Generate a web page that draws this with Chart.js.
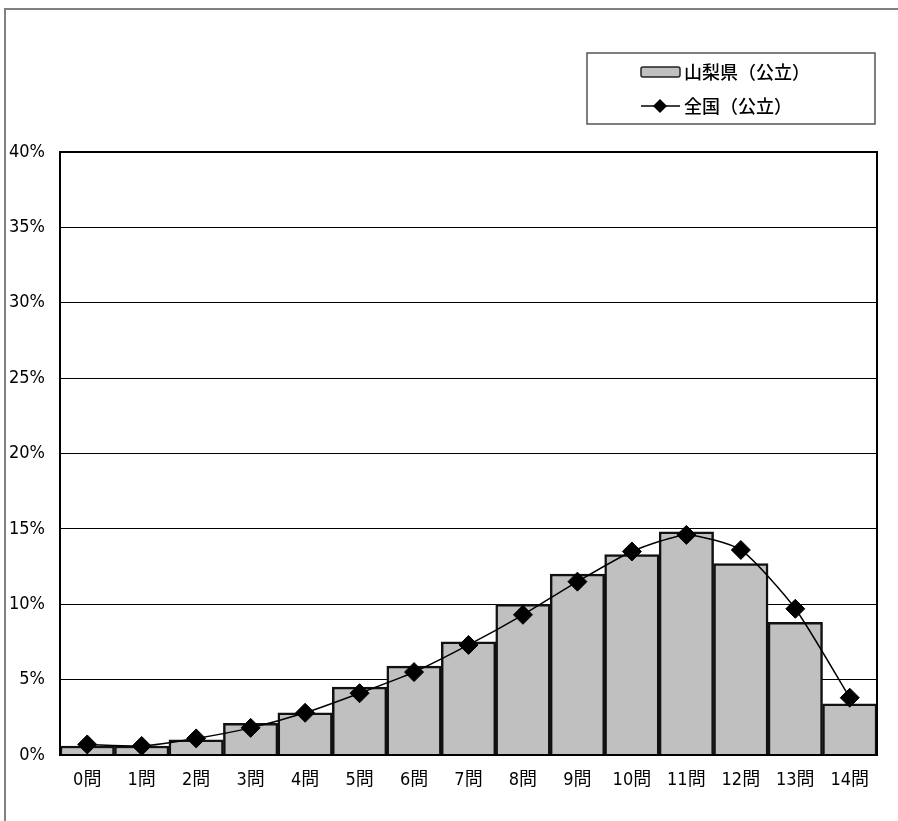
<!DOCTYPE html>
<html>
<head>
<meta charset="utf-8">
<script src="https://cdn.jsdelivr.net/npm/chart.js@4/dist/chart.umd.min.js"></script>
<style>
  html, body { margin: 0; padding: 0; background: #fff; }
  #wrap { width: 898px; height: 821px; position: relative; }
</style>
</head>
<body>
<div id="wrap"><canvas id="c"></canvas></div>
<script>
const categories = ['0問','1問','2問','3問','4問','5問','6問','7問','8問','9問','10問','11問','12問','13問','14問'];
const yamanashi = [0.6, 0.6, 1.0, 2.1, 2.8, 4.5, 5.9, 7.5, 10.0, 12.0, 13.3, 14.8, 12.7, 8.8, 3.4];
const zenkoku   = [0.7, 0.6, 1.1, 1.8, 2.8, 4.1, 5.5, 7.3, 9.3, 11.5, 13.5, 14.6, 13.6, 9.7, 3.8];
const seriesLabels = ['山梨県（公立）', '全国（公立）'];

const FONT = '"DejaVu Sans Condensed", "Noto Sans CJK JP", sans-serif';
const CJK = '"Noto Sans CJK JP", sans-serif';

const framePlugin = {
  id: 'frames',
  beforeDraw(chart) {
    const ctx = chart.ctx;
    ctx.save();
    ctx.strokeStyle = '#808080';
    ctx.lineWidth = 2;
    ctx.beginPath();
    ctx.moveTo(5, 821);
    ctx.lineTo(5, 9);
    ctx.lineTo(898, 9);
    ctx.stroke();
    ctx.restore();
  },
  afterDraw(chart) {
    const ctx = chart.ctx;
    const a = chart.chartArea;
    ctx.save();
    ctx.strokeStyle = '#000';
    ctx.lineWidth = 2;
    ctx.strokeRect(a.left, a.top, a.right - a.left, a.bottom - a.top);

    const barDs = chart.data.datasets.find(d => d.type === 'bar');
    const lineDs = chart.data.datasets.find(d => d.type === 'line');
    // legend box
    ctx.strokeStyle = '#555';
    ctx.lineWidth = 1.5;
    ctx.strokeRect(587, 53, 288, 71);
    // bar swatch
    ctx.fillStyle = barDs.backgroundColor;
    ctx.strokeStyle = '#222';
    ctx.lineWidth = 1.5;
    ctx.beginPath();
    if (ctx.roundRect) ctx.roundRect(641, 67, 39, 10, 2); else ctx.rect(641, 67, 39, 10);
    ctx.fill();
    ctx.stroke();
    // line swatch
    ctx.strokeStyle = '#000';
    ctx.lineWidth = 1.5;
    ctx.beginPath();
    ctx.moveTo(641, 106);
    ctx.lineTo(680, 106);
    ctx.stroke();
    ctx.fillStyle = '#000';
    ctx.beginPath();
    ctx.moveTo(660, 99); ctx.lineTo(667, 106); ctx.lineTo(660, 113); ctx.lineTo(653, 106);
    ctx.closePath();
    ctx.fill();
    // text
    ctx.fillStyle = '#000';
    ctx.font = '500 18px ' + CJK;
    ctx.textBaseline = 'middle';
    ctx.textAlign = 'left';
    ctx.fillText(barDs.label, 684, 72);
    ctx.fillText(lineDs.label, 684, 106);
    ctx.restore();
  }
};

new Chart(document.getElementById('c'), {
  data: {
    labels: categories,
    datasets: [
      {
        type: 'line',
        label: seriesLabels[1],
        data: zenkoku,
        order: 0,
        borderColor: '#000',
        borderWidth: 1.5,
        backgroundColor: '#000',
        pointStyle: 'rectRot',
        pointRadius: 9.5,
        pointBorderWidth: 1,
        pointBorderColor: '#000',
        pointBackgroundColor: '#000',
        tension: 0.2,
        fill: false
      },
      {
        type: 'bar',
        label: seriesLabels[0],
        data: yamanashi,
        order: 1,
        backgroundColor: '#c0c0c0',
        borderColor: '#111',
        borderWidth: 2.5,
        categoryPercentage: 1.0,
        barPercentage: 1.0
      }
    ]
  },
  options: {
    responsive: true,
    maintainAspectRatio: false,
    animation: false,
    layout: { padding: { left: 0, right: 21, top: 152, bottom: 0 } },
    plugins: {
      legend: { display: false },
      tooltip: { enabled: false }
    },
    scales: {
      x: {
        grid: { display: false, drawTicks: false },
        border: { display: true, color: '#000', width: 2 },
        ticks: { color: '#000', font: { family: FONT, size: 18 }, padding: 15, maxRotation: 0 },
        afterFit(s) { s.height = 66; }
      },
      y: {
        min: 0,
        max: 40,
        grid: { color: '#000', lineWidth: 1, drawTicks: false },
        border: { display: true, color: '#000', width: 2 },
        ticks: {
          stepSize: 5,
          color: '#000',
          font: { family: FONT, size: 18 },
          padding: 15,
          callback: v => v + '%'
        },
        afterFit(s) { s.width = 60; }
      }
    }
  },
  plugins: [framePlugin]
});
</script>
</body>
</html>
